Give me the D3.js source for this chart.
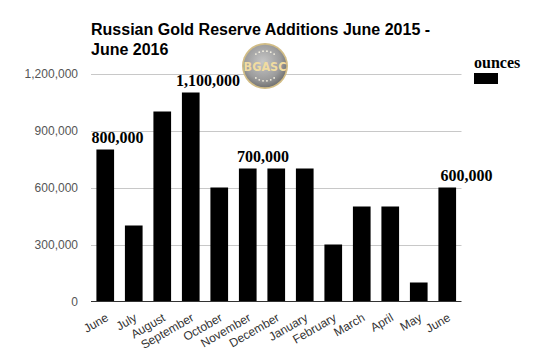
<!DOCTYPE html>
<html><head><meta charset="utf-8">
<script src="https://cdn.jsdelivr.net/npm/d3@7"></script>
<style>
html,body{margin:0;padding:0;background:#fff;}
svg{display:block;}
</style></head>
<body>
<script>
const months = ["June","July","August","September","October","November","December","January","February","March","April","May","June"];
const ounces = [800000,400000,1000000,1100000,600000,700000,700000,700000,300000,500000,500000,100000,600000];
const labelled = [0,3,5,12];
const yTicks = [0,300000,600000,900000,1200000];
const titleLines = ["Russian Gold Reserve Additions June 2015 -","June 2016"];
const legendLabel = "ounces";

const W=539,H=356;
const svg=d3.select("body").append("svg").attr("width",W).attr("height",H);
const defs=svg.append("defs");
const x=d3.scaleBand().domain(d3.range(months.length)).range([91,461.5]).paddingInner(0.38).paddingOuter(0.19);
const y=d3.scaleLinear().domain([0,1200000]).range([301.5,73.5]);

// gridlines
svg.append("g").selectAll("line").data(yTicks.filter(d=>d>0)).join("line")
  .attr("x1",91).attr("x2",461.5).attr("y1",d=>Math.round(y(d))+0.5).attr("y2",d=>Math.round(y(d))+0.5)
  .attr("stroke","#c8c8c8").attr("stroke-width",1);

// y axis labels
const yAxis=d3.axisLeft(y).tickValues(yTicks).tickFormat(d3.format(",")).tickSize(0).tickPadding(13);
const ga=svg.append("g").attr("transform","translate(91,0)").call(yAxis);
ga.select(".domain").remove();
ga.selectAll("text").attr("font-family","Arial, 'Liberation Sans', sans-serif").attr("font-size",12).attr("fill","#555");

// bars
svg.append("g").selectAll("rect").data(ounces).join("rect")
  .attr("x",(d,i)=>x(i)).attr("width",x.bandwidth())
  .attr("y",d=>y(d)).attr("height",d=>y(0)-y(d)).attr("fill","#000");

// baseline
svg.append("line").attr("x1",91).attr("x2",461.5).attr("y1",301.5).attr("y2",301.5).attr("stroke","#333").attr("stroke-width",1);

// x labels
svg.append("g").selectAll("text").data(months).join("text")
  .attr("transform",(d,i)=>`translate(${x(i)+x.bandwidth()/2+4},320) rotate(-30)`)
  .attr("text-anchor","end")
  .attr("font-family","Arial, 'Liberation Sans', sans-serif").attr("font-size",12).attr("fill","#333")
  .text(d=>d);

// data labels
const dx = {0:-5, 3:-6, 5:-2, 12:2};
svg.append("g").selectAll("text").data(labelled).join("text")
  .attr("x",i=>x(i)+dx[i]).attr("y",i=>y(ounces[i])-7)
  .attr("font-family","'Liberation Serif','Times New Roman',serif").attr("font-weight","bold").attr("font-size",16).attr("fill","#000")
  .text(i=>d3.format(",")(ounces[i]));

// title
svg.append("text").attr("font-family","Arial, 'Liberation Sans', sans-serif").attr("font-weight","bold").attr("font-size",16).attr("fill","#000")
  .selectAll("tspan").data(titleLines).join("tspan").attr("x",91).attr("y",(d,i)=>35+i*20).text(d=>d);

// legend
svg.append("text").attr("x",474).attr("y",68).attr("font-family","'Liberation Serif','Times New Roman',serif").attr("font-weight","bold").attr("font-size",16).text(legendLabel);
svg.append("rect").attr("x",474).attr("y",73).attr("width",24).attr("height",11).attr("fill","#000");

// BGASC logo watermark
const rg=defs.append("radialGradient").attr("id","lg").attr("cx","45%").attr("cy","40%").attr("r","60%");
rg.append("stop").attr("offset","0%").attr("stop-color","#c6c6c6");
rg.append("stop").attr("offset","70%").attr("stop-color","#9c9c9c");
rg.append("stop").attr("offset","100%").attr("stop-color","#747474");
const lg=svg.append("g").attr("transform","translate(265,66)");
lg.append("circle").attr("r",23).attr("fill","#d2bd86");
lg.append("circle").attr("r",21.3).attr("fill","url(#lg)");
const dots=d3.range(6);
lg.selectAll("circle.s").data(dots).join("circle").attr("class","s")
  .attr("cx",k=>15*Math.cos(-Math.PI/2+(k-2.5)*Math.PI/12)).attr("cy",k=>15*Math.sin(-Math.PI/2+(k-2.5)*Math.PI/12))
  .attr("r",0.9).attr("fill","#f4f0e0");
lg.selectAll("circle.t").data(dots).join("circle").attr("class","t")
  .attr("cx",k=>15*Math.cos(Math.PI/2+(k-2.5)*Math.PI/12)).attr("cy",k=>15*Math.sin(Math.PI/2+(k-2.5)*Math.PI/12))
  .attr("r",0.9).attr("fill","#f4f0e0");
lg.append("text").attr("text-anchor","middle").attr("y",4.5).attr("font-family","'DejaVu Sans Condensed','Liberation Sans Narrow',Arial,sans-serif")
  .attr("font-weight","bold").attr("font-size",12.5).attr("fill","#f1dca0").text("BGASC");
</script>
</body></html>
